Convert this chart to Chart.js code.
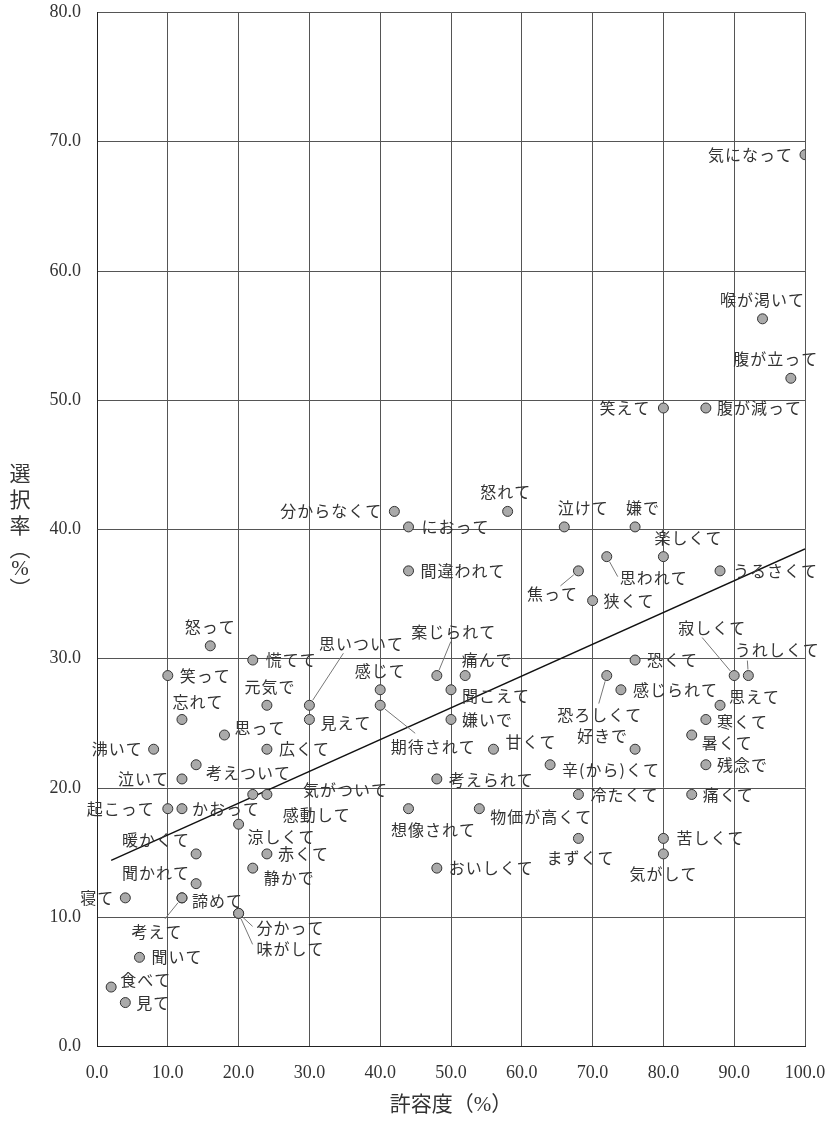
<!DOCTYPE html>
<html>
<head>
<meta charset="utf-8">
<script src="https://cdn.jsdelivr.net/npm/chart.js@4/dist/chart.umd.min.js"></script>
<style>
  html, body { margin: 0; padding: 0; background: #fff; }
</style>
</head>
<body>
<canvas id="toleranceChart" width="835" height="1121"></canvas>
<script>
// words and their values (tolerance %, selection rate %)
const words = [
    "気になって", "喉が渇いて", "腹が立って", "笑えて", "腹が減って",
    "分からなくて", "におって", "怒れて", "間違われて", "泣けて",
    "嫌で", "楽しくて", "思われて", "焦って", "うるさくて",
    "狭くて", "寂しくて", "うれしくて", "恐くて", "恐ろしくて",
    "感じられて", "思えて", "寒くて", "暑くて", "好きで",
    "残念で", "辛(から)くて", "冷たくて", "痛くて", "苦しくて",
    "気がして", "まずくて", "物価が高くて", "想像されて", "おいしくて",
    "考えられて", "甘くて", "期待されて", "嫌いで", "聞こえて",
    "痛んで", "案じられて", "感じて", "思いついて", "見えて",
    "慌てて", "怒って", "笑って", "元気で", "忘れて",
    "思って", "沸いて", "広くて", "考えついて", "泣いて",
    "気がついて", "感動して", "起こって", "かおって", "涼しくて",
    "暖かくて", "赤くて", "静かで", "聞かれて", "寝て",
    "諦めて", "考えて", "分かって", "味がして", "聞いて",
    "食べて", "見て"
];
const tolerance = [
    100, 94, 98, 80, 86,
    42, 44, 58, 44, 66,
    76, 80, 72, 68, 88,
    70, 90, 92, 76, 72,
    74, 88, 86, 84, 76,
    86, 64, 68, 84, 80,
    80, 68, 54, 44, 48,
    48, 56, 40, 50, 50,
    52, 48, 40, 30, 30,
    22, 16, 10, 24, 12,
    18, 8, 24, 14, 12,
    24, 22, 10, 12, 20,
    14, 24, 22, 14, 4,
    12, 12, 20, 20, 6,
    2, 4
];
const selection = [
    69.0, 56.3, 51.7, 49.4, 49.4,
    41.4, 40.2, 41.4, 36.8, 40.2,
    40.2, 37.9, 37.9, 36.8, 36.8,
    34.5, 28.7, 28.7, 29.9, 28.7,
    27.6, 26.4, 25.3, 24.1, 23.0,
    21.8, 21.8, 19.5, 19.5, 16.1,
    14.9, 16.1, 18.4, 18.4, 13.8,
    20.7, 23.0, 26.4, 25.3, 27.6,
    28.7, 28.7, 27.6, 26.4, 25.3,
    29.9, 31.0, 28.7, 26.4, 25.3,
    24.1, 23.0, 23.0, 21.8, 20.7,
    19.5, 19.5, 18.4, 18.4, 17.2,
    14.9, 14.9, 13.8, 12.6, 11.5,
    11.5, 11.5, 10.3, 10.3, 6.9,
    4.6, 3.4
];
// regression line end points
const trendX = [2, 100];
const trendY = [14.4, 38.5];

// label placement: [dx, dy, align, leader end offset]
const placement = [
    [-12, 0, "right"], [0, -19, "center"], [-15, -19, "center"], [-13, 0, "right"], [11, 0, "left"],
    [-12, 0, "right"], [13, 0, "left"], [-2, -19, "center"], [12, 0, "left"], [19, -19, "center"],
    [8, -19, "center"], [25, -19, "center"], [13, 21, "left", [11, 20]], [-26, 23, "center", [-18, 15]], [13, 0, "left"],
    [11, 0, "left"], [-22, -48, "center", [-32, -38]], [29, -26, "center", [-1, -15]], [12, 0, "left"], [-7, 39, "center", [-8, 28]],
    [12, 0, "left"], [9, -8, "left"], [11, 2, "left"], [10, 8, "left"], [-7, -13, "right"],
    [11, 0, "left"], [12, 5, "left"], [12, 0, "left"], [11, 0, "left"], [13, 0, "left"],
    [0, 20, "center"], [2, 20, "center"], [11, 8, "left"], [25, 21, "center"], [12, 0, "left"],
    [12, 1, "left"], [12, -7, "left"], [53, 42, "center", [35, 28]], [11, 0, "left"], [11, 6, "left"],
    [22, -16, "center"], [17, -44, "center", [14, -34]], [0, -19, "center"], [52, -61, "center", [34, -52]], [11, 3, "left"],
    [13, 0, "left"], [0, -19, "center"], [12, 0, "left"], [3, -18, "center"], [16, -18, "center"],
    [10, -7, "left"], [-11, 0, "right"], [12, 0, "left"], [10, 8, "left"], [-13, 0, "right"],
    [36, -5, "left"], [64, 20, "center"], [-13, 0, "right"], [10, 0, "left"], [9, 13, "left"],
    [-6, -14, "right"], [11, 0, "left"], [11, 10, "left"], [-6, -11, "right"], [-11, 0, "right"],
    [10, 3, "left"], [-25, 34, "center", [-17, 21]], [18, 15, "left", [14, 13]], [18, 36, "left", [14, 31]], [12, 0, "left"],
    [9, -7, "left"], [11, 0, "left"]
];

const labelFont = "16px 'Noto Sans CJK JP', sans-serif";
const tickFont = { family: "'Liberation Serif', 'Times New Roman', serif", size: 18 };

// draws the word labels, leader lines and axis titles
const labelPlugin = {
    id: "wordLabels",
    afterDatasetsDraw(chart) {
        const ctx = chart.ctx;
        const meta = chart.getDatasetMeta(1);
        ctx.save();
        ctx.font = labelFont;
        ctx.fillStyle = "#333";
        ctx.textBaseline = "middle";
        ctx.letterSpacing = "1px";
        meta.data.forEach(function (pt, i) {
            const p = placement[i];
            if (p[3]) {
                const ex = p[3][0], ey = p[3][1];
                const len = Math.sqrt(ex * ex + ey * ey);
                ctx.strokeStyle = "#777";
                ctx.lineWidth = 1;
                ctx.beginPath();
                ctx.moveTo(pt.x + ex / len * 6, pt.y + ey / len * 6);
                ctx.lineTo(pt.x + ex, pt.y + ey);
                ctx.stroke();
            }
            ctx.textAlign = p[2];
            ctx.fillText(words[i], pt.x + p[0], pt.y + p[1]);
        });
        ctx.restore();
    },
    afterDraw(chart) {
        const ctx = chart.ctx;
        const area = chart.chartArea;
        ctx.save();
        ctx.fillStyle = "#333";
        ctx.textAlign = "center";
        ctx.textBaseline = "middle";
        ctx.font = "21px 'Liberation Serif', 'Noto Sans CJK JP', serif";
        ctx.fillText("許容度（%）", (area.left + area.right) / 2, 1105);
        const chars = ["選", "択", "率", "︵", "%", "︶"];
        const ys = [475, 501, 527, 550, 569, 590];
        chars.forEach(function (c, i) {
            ctx.fillText(c, 20, ys[i]);
        });
        ctx.restore();
    }
};

const points = tolerance.map(function (x, i) { return { x: x, y: selection[i] }; });
const trend = trendX.map(function (x, i) { return { x: x, y: trendY[i] }; });

new Chart(document.getElementById("toleranceChart").getContext("2d"), {
    type: "scatter",
    data: {
        datasets: [
            {
                type: "line",
                data: trend,
                borderColor: "#111",
                borderWidth: 1.5,
                pointRadius: 0,
                fill: false,
                order: 1
            },
            {
                data: points,
                pointRadius: 5,
                pointBackgroundColor: "#aaa",
                pointBorderColor: "#333",
                pointBorderWidth: 1,
                order: 0
            }
        ]
    },
    options: {
        responsive: false,
        animation: false,
        layout: { padding: { top: 12.5, right: 30, left: 0, bottom: 0 } },
        plugins: { legend: { display: false }, tooltip: { enabled: false } },
        scales: {
            x: {
                min: 0, max: 100,
                grid: { color: "#555", drawTicks: false },
                border: { color: "#222" },
                ticks: {
                    stepSize: 10, padding: 16, color: "#333", font: tickFont,
                    maxRotation: 0,
                    callback: function (v) { return v.toFixed(1); }
                },
                afterFit: function (scale) {
                    scale.height = 74.5;
                    scale.paddingLeft = 0;
                    scale.paddingRight = 0;
                }
            },
            y: {
                min: 0, max: 80,
                grid: { color: "#555", drawTicks: false },
                border: { color: "#222" },
                ticks: {
                    stepSize: 10, padding: 16, color: "#333", font: tickFont,
                    callback: function (v) { return v.toFixed(1); }
                },
                afterFit: function (scale) {
                    scale.width = 97;
                    scale.paddingTop = 0;
                    scale.paddingBottom = 0;
                }
            }
        }
    },
    plugins: [labelPlugin]
});
</script>
</body>
</html>
